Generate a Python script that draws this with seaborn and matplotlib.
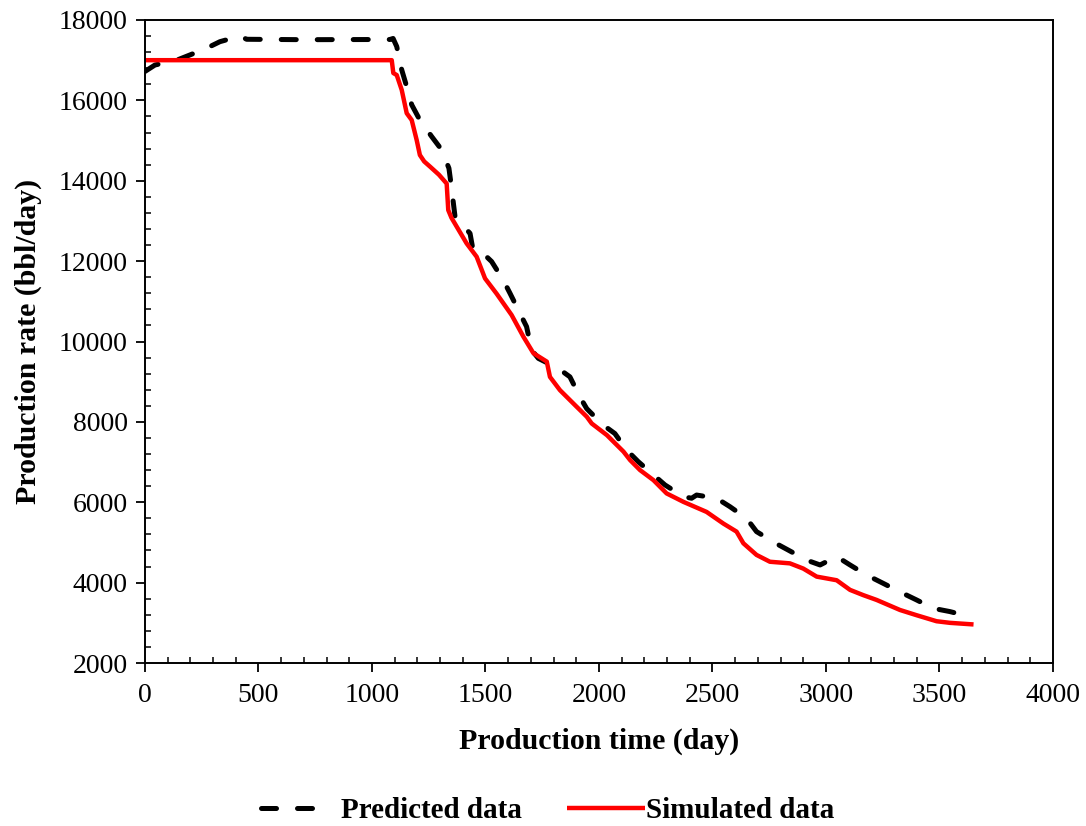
import numpy as np
import pandas as pd
import matplotlib
matplotlib.use("Agg")
import matplotlib.pyplot as plt
from matplotlib.ticker import MultipleLocator
from matplotlib.legend_handler import HandlerLine2D
import seaborn as sns

# Predicted production rate (bbl/day) versus production time (day)
pred_day = [0, 44, 140, 198, 272, 330, 418, 448, 700, 1079, 1093, 1109, 1131, 1153,
            1175, 1211, 1263, 1307, 1339, 1348, 1366, 1432, 1445, 1490, 1527, 1578,
            1608, 1652, 1681, 1703, 1733, 1821, 1872, 1916, 1946, 1960, 2019, 2070,
            2122, 2173, 2240, 2291, 2372, 2408, 2430, 2518, 2577, 2650, 2694, 2775,
            2834, 2915, 2974, 3047, 3106, 3179, 3253, 3326, 3399, 3473, 3546, 3650]
pred_rate = [16720, 16880, 17000, 17130, 17300, 17460, 17600, 17520, 17510, 17515,
             17540, 17340, 16760, 16340, 15890, 15510, 15100, 14770, 14310, 13930,
             13100, 12690, 12280, 12190, 11990, 11530, 11200, 10700, 10370, 9790,
             9580, 9330, 9120, 8620, 8330, 8250, 7920, 7710, 7300, 7010, 6680, 6430,
             6140, 6100, 6180, 6100, 5890, 5600, 5270, 4990, 4810, 4560, 4440, 4650,
             4440, 4190, 3980, 3770, 3570, 3360, 3280, 3130]

# Simulated production rate (bbl/day) versus production time (day)
sim_day = [0, 500, 1087, 1094, 1109, 1131, 1153, 1175, 1197, 1211, 1230, 1256, 1295,
           1329, 1336, 1350, 1373, 1417, 1461, 1498, 1549, 1615, 1667, 1711, 1770,
           1784, 1828, 1901, 1946, 1968, 2035, 2108, 2137, 2181, 2240, 2298, 2372,
           2474, 2548, 2606, 2636, 2694, 2753, 2841, 2900, 2959, 3047, 3106, 3164,
           3223, 3326, 3399, 3487, 3546, 3650]
sim_rate = [17000, 17000, 17000, 16680, 16630, 16260, 15680, 15510, 15010, 14640,
            14480, 14350, 14150, 13930, 13270, 13080, 12860, 12440, 12110, 11570,
            11190, 10660, 10120, 9710, 9500, 9120, 8790, 8380, 8130, 7960, 7670,
            7260, 7050, 6800, 6550, 6220, 6010, 5760, 5470, 5270, 4980, 4690, 4520,
            4480, 4350, 4150, 4060, 3820, 3690, 3570, 3320, 3190, 3040, 3000, 2960]

x_ticks = [0, 500, 1000, 1500, 2000, 2500, 3000, 3500, 4000]
y_ticks = [2000, 4000, 6000, 8000, 10000, 12000, 14000, 16000, 18000]

pred_df = pd.DataFrame({"day": pred_day, "rate": pred_rate})
sim_df = pd.DataFrame({"day": sim_day, "rate": sim_rate})

sns.set_style("white")
plt.rcParams["font.family"] = ["Liberation Serif", "DejaVu Serif"]
plt.rcParams["text.color"] = "black"
plt.rcParams["axes.labelcolor"] = "black"

fig = plt.figure(figsize=(10.86, 8.26), dpi=100)
ax = fig.add_axes([0.1335, 0.1973, 0.8361, 0.7785])

sns.lineplot(data=pred_df, x="day", y="rate", ax=ax, color="black",
             linewidth=3.6, label="Predicted data", sort=False)
sns.lineplot(data=sim_df, x="day", y="rate", ax=ax, color="#ff0000",
             linewidth=3.2, label="Simulated data", sort=False)

pred_line = ax.lines[0]
pred_line.set_dashes((3.0, 4.2))
pred_line.set_dash_capstyle("round")
ax.lines[1].set_solid_capstyle("butt")

ax.set_xlim(0, 4000)
ax.set_ylim(2000, 18000)
ax.set_xticks(x_ticks)
ax.set_yticks(y_ticks)
ax.xaxis.set_minor_locator(MultipleLocator(100))
ax.yaxis.set_minor_locator(MultipleLocator(400))
ax.tick_params(axis="both", which="both", bottom=True, left=True,
               top=False, right=False)
ax.tick_params(axis="both", which="major", direction="out", length=6.5,
               width=1.3, labelsize=20, color="black", labelcolor="black", pad=6)
ax.tick_params(axis="both", which="minor", direction="in", length=4.5,
               width=1.1, color="black")
ax.tick_params(axis="x", which="major", pad=8)

for s in ax.spines.values():
    s.set_visible(True)
    s.set_color("black")
    s.set_linewidth(1.4)

ax.set_xlabel("Production time (day)", fontsize=21.5, fontweight="bold",
              labelpad=14)
ax.set_ylabel("Production rate (bbl/day)", fontsize=21.5, fontweight="bold",
              labelpad=12)


class ExtendedLine(HandlerLine2D):
    """Legend handler that stretches the sample line a bit to the right."""

    def __init__(self, extra=0.0, **kw):
        super().__init__(**kw)
        self.extra = extra

    def create_artists(self, legend, orig_handle, xdescent, ydescent, width,
                       height, fontsize, trans):
        return super().create_artists(legend, orig_handle, xdescent, ydescent,
                                      width + self.extra, height, fontsize, trans)


ax.legend_.remove()
handles, labels = ax.get_legend_handles_labels()
leg = fig.legend(handles, labels, loc="center", bbox_to_anchor=(0.5046, 0.019),
                 ncol=2, frameon=False, handlelength=2.0, columnspacing=1.55,
                 handletextpad=0.72,
                 handler_map={handles[1]: ExtendedLine(extra=14)},
                 prop={"family": "Liberation Serif", "weight": "bold", "size": 21})
for t in leg.get_texts():
    t.set_color("black")

fig.savefig("out.png", dpi=100, facecolor="white")
